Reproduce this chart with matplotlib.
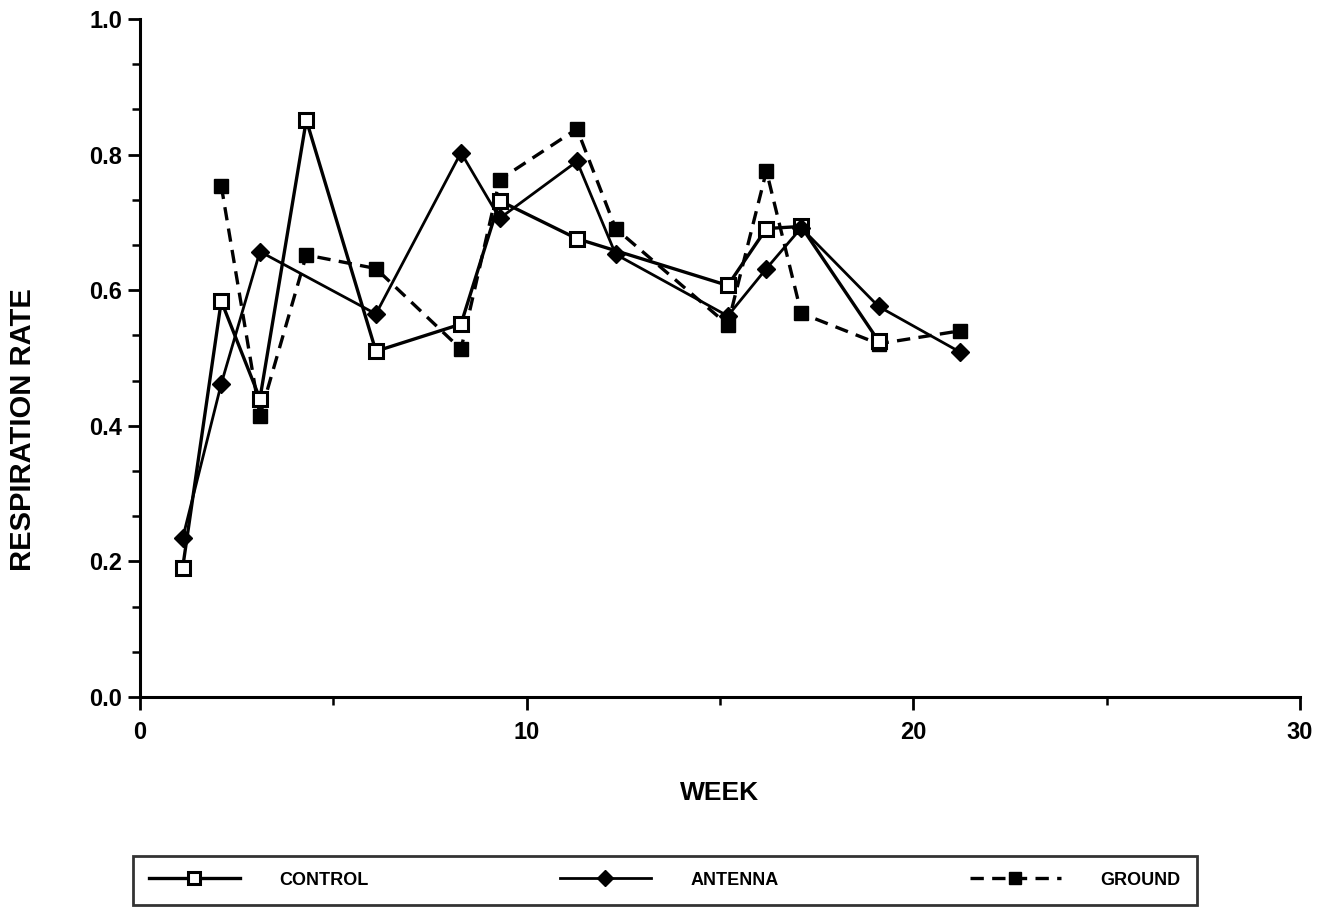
import matplotlib
matplotlib.use("Agg")
import matplotlib.pyplot as plt
from matplotlib.ticker import MultipleLocator

# weeks / values
control_week = [1.1, 2.1, 3.1, 4.3, 6.1, 8.3, 9.3, 11.3, 15.2, 16.2, 17.1, 19.1]
control_rate = [0.19, 0.584, 0.44, 0.851, 0.51, 0.55, 0.732, 0.676, 0.607, 0.691, 0.694, 0.525]

antenna_week = [1.1, 2.1, 3.1, 6.1, 8.3, 9.3, 11.3, 12.3, 15.2, 16.2, 17.1, 19.1, 21.2]
antenna_rate = [0.234, 0.462, 0.657, 0.565, 0.803, 0.706, 0.79, 0.653, 0.562, 0.632, 0.692, 0.576, 0.509]

ground_week = [2.1, 3.1, 4.3, 6.1, 8.3, 9.3, 11.3, 12.3, 15.2, 16.2, 17.1, 19.1, 21.2]
ground_rate = [0.754, 0.415, 0.652, 0.632, 0.513, 0.763, 0.838, 0.691, 0.549, 0.776, 0.566, 0.521, 0.54]

xticks = [0, 10, 20, 30]
yticks = [0.0, 0.2, 0.4, 0.6, 0.8, 1.0]

plt.rcParams["font.family"] = ["Liberation Sans", "DejaVu Sans"]

fig = plt.figure(figsize=(13.34, 9.14), dpi=100)
ax = fig.add_axes([0.105, 0.2374, 0.8695, 0.7418])

ax.plot(control_week, control_rate, color="black", lw=2.4, marker="s", ms=10,
        mfc="white", mec="black", mew=2.2, label="CONTROL", zorder=3)
ax.plot(antenna_week, antenna_rate, color="black", lw=2.0, marker="D", ms=9,
        mfc="black", mec="black", label="ANTENNA", zorder=4)
ax.plot(ground_week, ground_rate, color="black", lw=2.4, ls=(0, (4, 2.5)), marker="s", ms=10,
        mfc="black", mec="black", label="GROUND", zorder=2)

ax.set_xlim(0, 30)
ax.set_ylim(0, 1.0)
ax.set_xticks(xticks)
ax.set_yticks(yticks)
ax.set_yticklabels([f"{v:.1f}" for v in yticks])
ax.xaxis.set_minor_locator(MultipleLocator(5))
ax.yaxis.set_minor_locator(MultipleLocator(0.2 / 3))

for side in ("top", "right"):
    ax.spines[side].set_visible(False)
for side in ("left", "bottom"):
    ax.spines[side].set_linewidth(2.2)

ax.tick_params(axis="both", which="major", direction="out", length=9, width=2,
               labelsize=17, pad=4)
ax.tick_params(axis="x", which="major", pad=8)
ax.tick_params(axis="both", which="minor", direction="out", length=6, width=1.8)
for lbl in ax.get_xticklabels() + ax.get_yticklabels():
    lbl.set_fontweight("bold")

ax.set_xlabel("WEEK", fontsize=19, fontweight="bold", labelpad=27)
fig.text(0.017, 0.53, "RESPIRATION RATE", rotation=90, fontsize=21,
         fontweight="bold", ha="center", va="center")

leg = fig.legend(loc="lower left", bbox_to_anchor=(0.0997, 0.0098, 0.7973, 0.058),
                 mode="expand", ncol=3, frameon=True, fancybox=False,
                 borderaxespad=0.0, handlelength=5.0, handletextpad=2.2,
                 borderpad=0.9,
                 prop={"family": ["Liberation Sans Narrow", "Liberation Sans", "DejaVu Sans"],
                       "weight": "bold", "size": 13})
leg.get_frame().set_edgecolor("black")
leg.get_frame().set_linewidth(2.0)
for h in leg.legend_handles:
    h.set_markersize(8)

fig.savefig("out.png", dpi=100)
